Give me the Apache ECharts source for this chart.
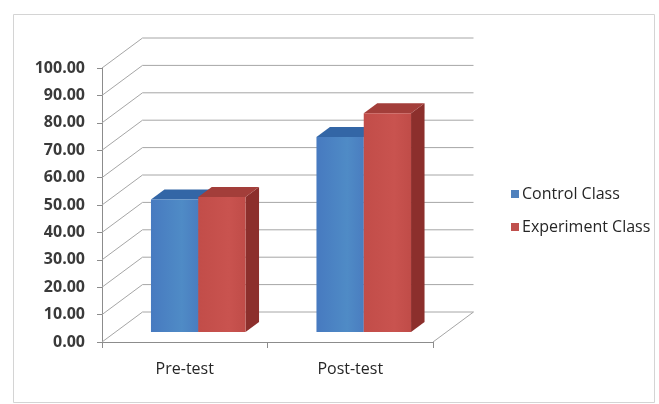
<!DOCTYPE html>
<html>
<head>
<meta charset="utf-8">
<style>
  html, body { margin: 0; padding: 0; background: #ffffff; }
  #chart { width: 659px; height: 404px; }
</style>
<script src="https://cdn.jsdelivr.net/npm/echarts@6/dist/echarts.min.js"></script>
</head>
<body>
<div id="chart"></div>
<script>
// Test scores by class
const categories = ['Pre-test', 'Post-test'];
const seriesNames = ['Control Class', 'Experiment Class'];
const controlValues = [48.4, 71.2];
const experimentValues = [49.3, 79.8];
const yTickValues = [0, 10, 20, 30, 40, 50, 60, 70, 80, 90, 100];

// Oblique projection: full depth of the box, and the slab the columns occupy
const DEPTH_X = 40.5;
const DEPTH_Y = -30;
const COL_FRONT = 1 / 3;
const COL_BACK = 2 / 3;
const GAP_WIDTH = 1.5;

const palettes = [
  { front: ['#477ac0', '#4f8bc6', '#4a7dc0'], top: '#3366a6', side: '#2c5a94', legend: '#4f81bd' },
  { front: ['#c24d49', '#c9534f', '#c04c48'], top: '#a33e3a', side: '#8c2f2c', legend: '#c0504d' }
];

const chart = echarts.init(document.getElementById('chart'), null, { renderer: 'canvas' });

function wallItem(params, api) {
  const cs = params.coordSys;
  const y = api.coord([0, api.value(0)])[1];
  const x0 = cs.x, x1 = cs.x + cs.width;
  const lineStyle = { stroke: '#a6a6a6', lineWidth: 1, fill: null };
  const children = [
    { type: 'polyline', shape: { points: [[x0, y], [x0 + DEPTH_X, y + DEPTH_Y], [x1 + DEPTH_X, y + DEPTH_Y]] }, style: lineStyle }
  ];
  if (api.value(0) === 0) {
    children.push({ type: 'line', shape: { x1: x1, y1: y, x2: x1 + DEPTH_X, y2: y + DEPTH_Y }, style: lineStyle });
  }
  return { type: 'group', children: children };
}

function columnItem(seriesIdx) {
  return function (params, api) {
    const i = api.value(0);
    const v = api.value(1);
    const base = api.coord([i, 0]);
    const topY = api.coord([i, v])[1];
    const band = api.size([1, 0])[0];
    const w = band / (2 + GAP_WIDTH);
    const xl = base[0] - w + seriesIdx * w;
    const xr = xl + w;
    const fx = DEPTH_X * COL_FRONT, fy = DEPTH_Y * COL_FRONT;
    const bx = DEPTH_X * COL_BACK, by = DEPTH_Y * COL_BACK;
    const yb = base[1];
    const p = palettes[seriesIdx];
    return {
      type: 'group',
      children: [
        { type: 'polygon', shape: { points: [[xr + fx, yb + fy], [xr + bx, yb + by], [xr + bx, topY + by], [xr + fx, topY + fy]] }, style: { fill: p.side } },
        { type: 'polygon', shape: { points: [[xl + fx, topY + fy], [xr + fx, topY + fy], [xr + bx, topY + by], [xl + bx, topY + by]] }, style: { fill: p.top } },
        { type: 'rect', shape: { x: xl + fx, y: topY + fy, width: w, height: yb - topY },
          style: { fill: new echarts.graphic.LinearGradient(0, 0, 1, 0, [
            { offset: 0, color: p.front[0] }, { offset: 0.65, color: p.front[1] }, { offset: 1, color: p.front[2] }
          ]) } }
      ]
    };
  };
}

const valueSets = [controlValues, experimentValues];

chart.setOption({
  animation: false,
  backgroundColor: '#ffffff',
  textStyle: { fontFamily: 'Open Sans' },
  graphic: [
    { type: 'rect', left: 11, top: 12, shape: { width: 641, height: 388 }, style: { fill: null, stroke: '#d4d4d4', lineWidth: 1 }, z: -10 }
  ],
  grid: { left: 102, right: 226, top: 68, bottom: 62 },
  legend: {
    orient: 'vertical',
    left: 506,
    top: 181,
    itemWidth: 8,
    itemHeight: 8,
    itemGap: 17,
    icon: 'rect',
    data: seriesNames,
    textStyle: { fontFamily: 'Open Sans', fontSize: 16, color: '#262626', padding: [0, 0, 0, -2] }
  },
  xAxis: {
    type: 'category',
    data: categories,
    axisLine: { lineStyle: { color: '#8c8c8c' } },
    axisTick: { show: true, length: 6, lineStyle: { color: '#8c8c8c' } },
    axisLabel: { margin: 19, fontSize: 16, color: '#262626', fontFamily: 'Open Sans' },
    splitLine: { show: false }
  },
  yAxis: {
    type: 'value',
    min: 0,
    max: 100,
    interval: 10,
    axisLine: { show: true, lineStyle: { color: '#8c8c8c' } },
    axisTick: { show: true, length: 5, lineStyle: { color: '#8c8c8c' } },
    axisLabel: { margin: 17, fontSize: 16, fontWeight: 'bold', color: '#3a3a3a', fontFamily: 'Open Sans',
      formatter: function (v) { return v.toFixed(2); } },
    splitLine: { show: false }
  },
  series: [
    {
      type: 'custom',
      name: 'walls',
      silent: true,
      z: 1,
      renderItem: wallItem,
      data: yTickValues.map(function (v) { return [v]; }),
      encode: { y: 0 }
    }
  ].concat(seriesNames.map(function (name, s) {
    return {
      type: 'custom',
      name: name,
      z: 3 + s,
      itemStyle: { color: palettes[s].legend },
      renderItem: columnItem(s),
      data: valueSets[s].map(function (v, i) { return [i, v]; }),
      encode: { x: 0, y: 1 }
    };
  }))
});
</script>
</body>
</html>
